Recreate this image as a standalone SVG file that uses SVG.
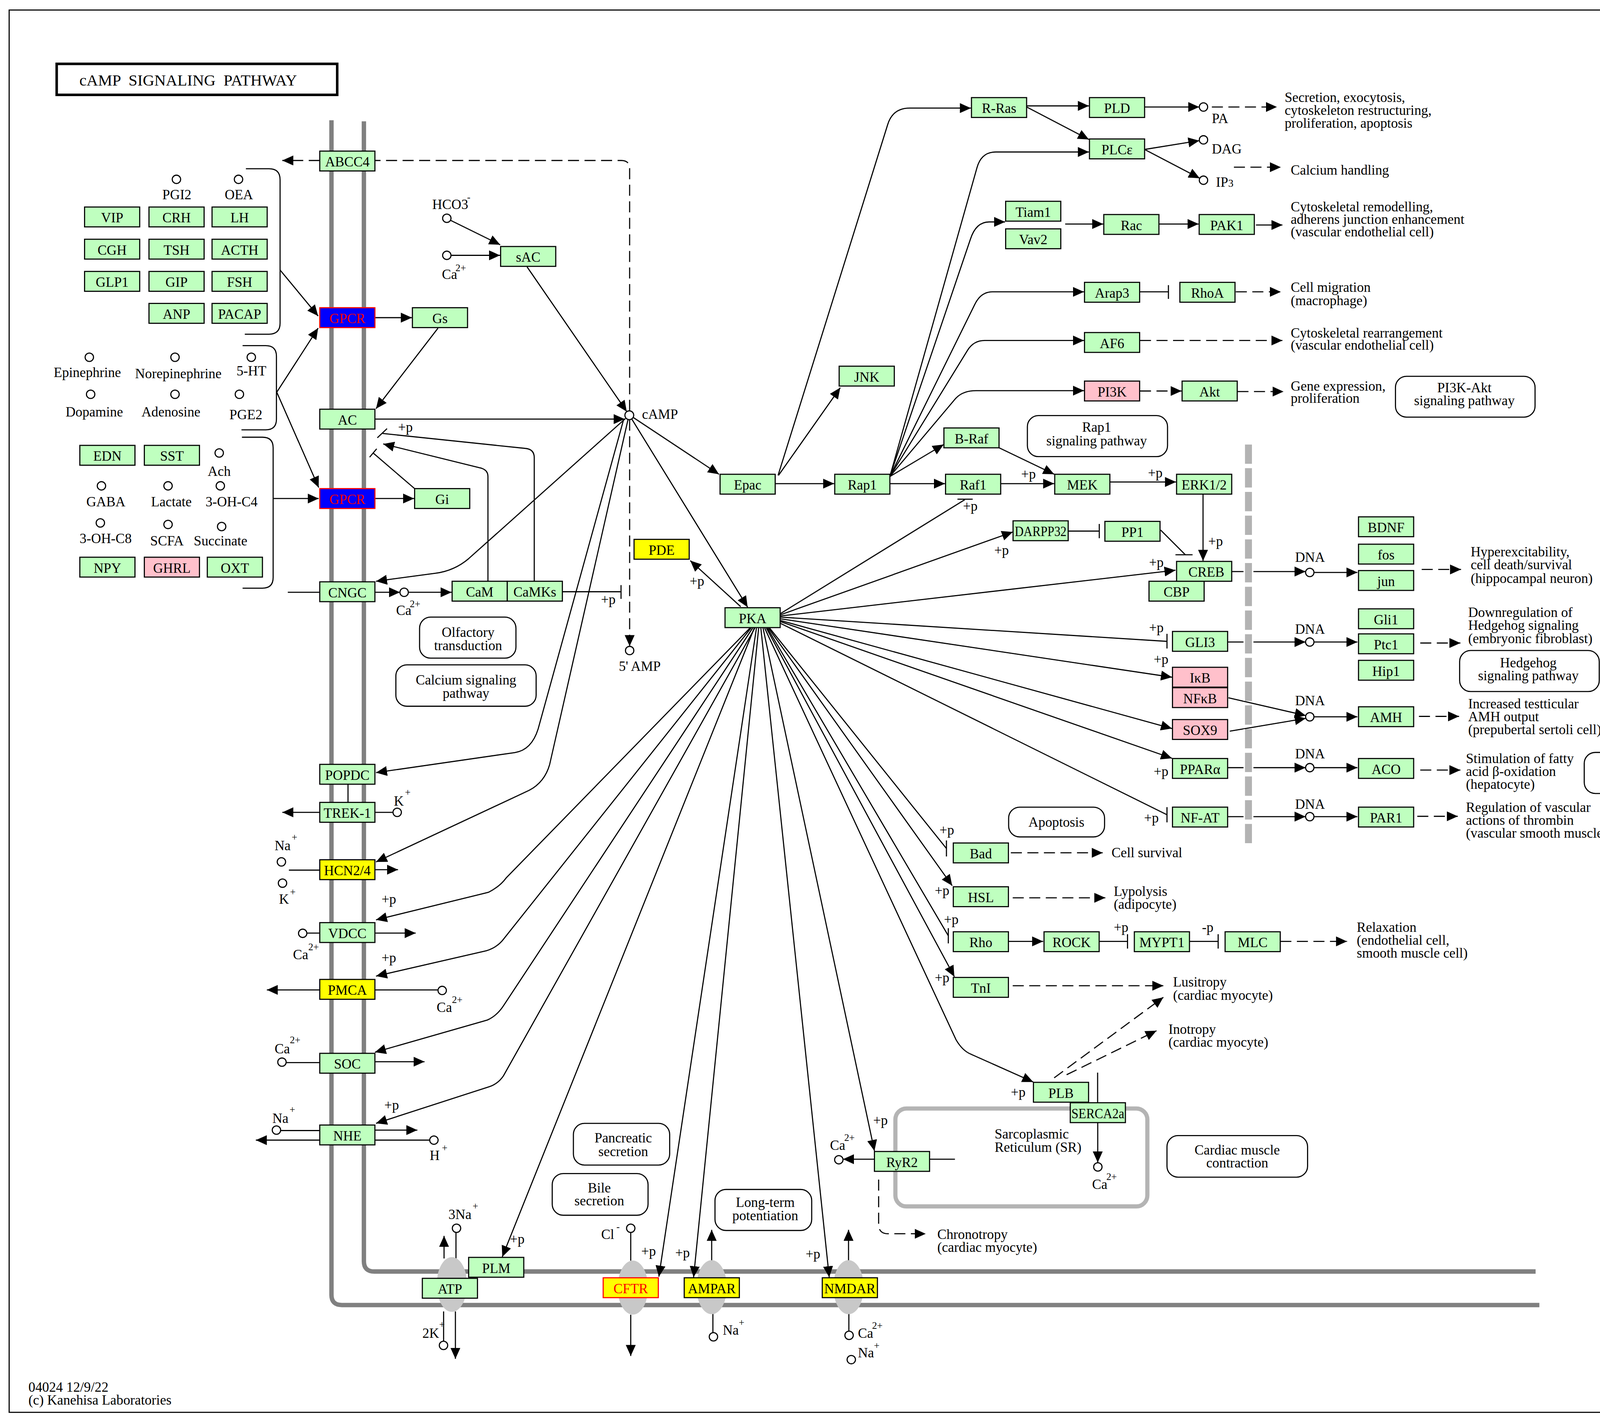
<svg xmlns="http://www.w3.org/2000/svg" width="4415" height="3642" viewBox="0 0 4415 3642">
<defs>
<style>
.n{stroke:#000;stroke-width:1}
.g{fill:#bfffbf}
.y{fill:#ffff00}
.p{fill:#ffc0cb}
.b{fill:#0000ff;stroke:#ff0000}
.cr{stroke:#ff0000}
text{font-family:"Liberation Serif","Times New Roman",serif;font-size:12.5px;fill:#000}
.m{text-anchor:middle}
.red{fill:#ff0000}
.l{fill:none;stroke:#000;stroke-width:1}
.d{stroke-dasharray:10 5}
.a{marker-end:url(#ah)}
.cp{fill:#fff;stroke:#000;stroke-width:1}
.mb{fill:none;stroke:#808080;stroke-width:4}
.map{fill:#fff;stroke:#000;stroke-width:1}
.ch{fill:#c8c8c8}
.sup{font-size:9px}
</style>
<marker id="ah" markerUnits="userSpaceOnUse" markerWidth="10" markerHeight="9" viewBox="0 0 10 9" refX="10" refY="4.5" orient="auto"><path d="M0,0L10,4.5L0,9z" fill="#000"/></marker>
</defs>
<rect width="4415" height="3642" fill="#fff"/>
<g transform="scale(2.8229)">
<rect x="8.3" y="9.1" width="1543" height="1271.4" fill="none" stroke="#000" stroke-width="1"/>
<g id="title"><rect x="51.4" y="57.9" width="254.4" height="28.1" fill="#fff" stroke="#000" stroke-width="2.3"/><text x="72" y="77.7" style="font-size:14.5px" xml:space="preserve">cAMP  SIGNALING  PATHWAY</text></g>

<g id="membranes">
<path class="mb" d="M300.6,109V1174Q300.6,1183.2 310,1183.2H1396"/>
<path class="mb" d="M330,110V1143.5Q330,1152.8 339.5,1152.8H1392.6"/>
<rect x="812" y="1005" width="228.5" height="88.8" rx="10" fill="none" stroke="#b4b4b4" stroke-width="3.8"/>
</g>

<g id="connectors">
<path class="l" d="M223,153H244Q254,153 254,163V293Q254,303 244,303H222"/>
<path class="l" d="M220,313.4H241Q250.7,313.4 250.7,323V380Q250.7,389.7 241,389.7H219"/>
<path class="l" d="M219.4,396.4H238Q247.7,396.4 247.7,406V523.6Q247.7,533.3 238,533.3H220"/>
<path class="l a" d="M254,244.8L288.5,286.5"/>
<path class="l a" d="M251,355.6L288.5,297.5"/>
<path class="l a" d="M251,355.6L289,442"/>
<path class="l a" d="M247.7,452H289"/>
<path class="l a" d="M340,288H373.5"/>
<path class="l a" d="M397.2,297.5L341,370.5"/>
<path class="l a" d="M340,452H375.5"/>
<path class="l" d="M376,443L338.4,410.7M341.6,406.9L335.2,414.5"/>
<path class="l a" d="M442.5,527V432Q442.5,425.5 434.5,424L347.5,402.5"/>
<path class="l" d="M484.5,527V415Q484.5,407 476,406.5L347,393M342.2,396.9L351,388.6"/>
<path class="l a" d="M408.5,199.7L453.6,221.9"/>
<path class="l a" d="M409.3,231.5H453.5"/>
<path class="l a" d="M478,242L568.4,373.2"/>
<path class="l a" d="M340,380H566.5"/>
<path class="l d" d="M571,372.5V153Q571,145.5 563.5,145.5H340"/>
<path class="l d a" d="M290,145.5H256"/>
<path class="l d a" d="M571,380.5V585.8"/>
<path class="l a" d="M574.3,378.5L652,430"/>
<path class="l a" d="M573,380L678,550.5"/>
<path class="l a" d="M567.2,379.5L425,506.5Q412,517.5 395,519.7L341,527"/>
<path class="l a" d="M565.5,380.5L488,661Q482,680 467,682.3L341,700.5"/>
<path class="l a" d="M569.5,380.5L498.5,693Q494,709 480,716.5L341,781.5"/>
<path class="l" d="M261,537H290"/>
<path class="l a" d="M340,537H362.7"/>
<path class="l a" d="M370.3,537H409.5"/>
<path class="l" d="M509.5,536.5H563.2M563.2,530.5V543"/>
<path class="l" d="M315.6,711V727.5"/>
<path class="l a" d="M290,736.5H256"/>
<path class="l" d="M340,736.5H356.4"/>
<path class="l" d="M262,788.9H290"/>
<path class="l a" d="M340,788.5H361"/>
<path class="l" d="M278.3,846H290"/>
<path class="l a" d="M340,846H377"/>
<path class="l a" d="M290,897.5H242"/>
<path class="l" d="M340,897.5H397.2"/>
<path class="l" d="M259.5,963.4H290"/>
<path class="l a" d="M340,962.6H385"/>
<path class="l" d="M254.5,1025H290"/>
<path class="l a" d="M340,1024.6H378.5"/>
<path class="l a" d="M290,1033.7H232"/>
<path class="l" d="M340,1033.7H389.7"/>
<path class="l a" d="M680,569.5L459,796Q453,804 443,809L341,834"/>
<path class="l a" d="M681,569.5L457,851Q451,859 441,862L341,885"/>
<path class="l a" d="M682.5,569.5L456.5,912Q450.5,921 442,924.8L340,954"/>
<path class="l a" d="M684.5,569.5L456.5,975.5Q451,983.5 442,985.8L341,1018.5"/>
<path class="l a" d="M684,569.5L455.5,1139.5"/>
<path class="l a" d="M686,569.5L597.5,1157.5"/>
<path class="l a" d="M688,569.5L629,1158"/>
<path class="l a" d="M690,569.5L752,1158"/>
<path class="l a" d="M692,569.5L793,1043.5"/>
<path class="l a" d="M693.5,569.5L867,942.7Q873,953 881,956L937,981"/>
<path class="l a" d="M695,569.5L865.5,885.5"/>
<path class="l" d="M696,569.5L860,848.4M860,841.5V855.3"/>
<path class="l a" d="M697,569.5L863.5,803"/>
<path class="l" d="M698,569.5L858.3,769.3M858.3,762V776.5"/>
<path class="l" d="M707.5,565L1058.3,738.7M1058.3,731.8V745.6"/>
<path class="l a" d="M707.5,563.5L1062.8,687.5"/>
<path class="l a" d="M707.5,562.5L1062.8,660.5"/>
<path class="l a" d="M707.5,561L1062.8,614"/>
<path class="l" d="M707.5,559.5L1058.3,581.5M1058.3,574.7V588"/>
<path class="l a" d="M707.5,558.5L1066,517"/>
<path class="l a" d="M707.5,557.5L918.5,482.3"/>
<path class="l" d="M707.5,556.5L875,453M868.3,452.6H882.1"/>
<path class="l a" d="M671.7,550L626,508.3"/>
<path class="l a" d="M703,438.5H756.5"/>
<path class="l a" d="M706,431L762,351.5"/>
<path class="l a" d="M705.6,431L805,113Q809.5,98 825,98H880.5"/>
<path class="l a" d="M807,438.5H857"/>
<path class="l a" d="M807,432L855.8,403"/>
<path class="l a" d="M807,432L866,362Q872.5,354.2 885,354.2H983"/>
<path class="l a" d="M807,432L877.5,317.5Q883,308.7 893,308.7H983"/>
<path class="l a" d="M807,432L884,276Q889.5,264.6 900,264.6H983"/>
<path class="l a" d="M807,432L880,217Q885,201.2 897,201.2H911.5"/>
<path class="l a" d="M807,432L886,152Q890,137.8 903,137.8H987.5"/>
<path class="l a" d="M907.2,438.5H956"/>
<path class="l a" d="M906,406L956,430"/>
<path class="l a" d="M1006.7,437H1066.5"/>
<path class="l a" d="M1091,448V508.5"/>
<path class="l" d="M968.8,481.5H996.9M996.9,475V488"/>
<path class="l" d="M1052.5,480.5L1075,503M1066,503H1081.5"/>
<path class="l a" d="M931,96H987.5"/>
<path class="l a" d="M931,97L987.5,126.5"/>
<path class="l a" d="M1038,97H1087.5"/>
<path class="l d a" d="M1099,97H1158"/>
<path class="l a" d="M1038,135.5L1087.6,127.5"/>
<path class="l a" d="M1038,135.5L1088,161.6"/>
<path class="l d a" d="M1119,151.6H1161.6"/>
<path class="l a" d="M966,203.1H1000.5"/>
<path class="l a" d="M1050.8,203.1H1087"/>
<path class="l a" d="M1139,204H1163"/>
<path class="l" d="M1033.8,264.6H1059.6M1059.6,258.5V271"/>
<path class="l d a" d="M1120.7,264.6H1161.6"/>
<path class="l d a" d="M1033.8,308.7H1163"/>
<path class="l d a" d="M1033.8,354.5H1071.5"/>
<path class="l d a" d="M1122.2,355H1164"/>
<path class="l a" d="M1117,518.2H1184"/>
<path class="l a" d="M1191.6,519H1231"/>
<path class="l d a" d="M1289.3,516.3H1325"/>
<path class="l a" d="M1113.5,582.1H1184"/>
<path class="l a" d="M1191.6,582.1H1231"/>
<path class="l d a" d="M1288,583H1324.4"/>
<path class="l a" d="M1114,632.6L1184.2,648.8"/>
<path class="l a" d="M1115.2,662.9L1184.2,651.3"/>
<path class="l a" d="M1191.6,649.9H1231"/>
<path class="l d a" d="M1286.8,649.5H1323.2"/>
<path class="l a" d="M1113.5,696H1184"/>
<path class="l a" d="M1191.6,696H1231"/>
<path class="l d a" d="M1288,698.2H1324.4"/>
<path class="l a" d="M1113.5,740.4H1184"/>
<path class="l a" d="M1191.6,740.4H1231"/>
<path class="l d a" d="M1285.3,740.1H1322"/>
<path class="l d a" d="M916.7,773.2H1000"/>
<path class="l d a" d="M918.4,814H1002.4"/>
<path class="l a" d="M914.7,853.5H946"/>
<path class="l" d="M996.9,853.5H1022.5M1022.5,847V860"/>
<path class="l" d="M1078.9,853.5H1104.7M1104.7,847V860"/>
<path class="l d a" d="M1161.1,853.5H1221.6"/>
<path class="l d a" d="M918.4,893.7H1055"/>
<path class="l d a" d="M956,977.2L1055,904.2"/>
<path class="l d a" d="M967.3,974.4L1048.8,934.5"/>
<path class="l" d="M995.4,972.5V999.8"/>
<path class="l a" d="M995.5,1018V1054"/>
<path class="l a" d="M793,1051H764.5"/>
<path class="l" d="M843.2,1051H866"/>
<path class="l d a" d="M796.8,1069.5V1110Q796.8,1118.6 805.5,1118.6H839.5"/>
<path class="l" d="M413.5,1117.4V1141"/>
<path class="l a" d="M413,1189V1232"/>
<path class="l" d="M402.3,1216V1189"/>
<path class="l a" d="M402.7,1141V1120.5"/>
<path class="l" d="M572,1117.4V1143"/>
<path class="l a" d="M572,1192V1229.4"/>
<path class="l a" d="M645.4,1143V1115"/>
<path class="l" d="M646.5,1191V1208.2"/>
<path class="l a" d="M769.5,1143V1115"/>
<path class="l" d="M769.8,1191V1207"/>
</g>

<g id="nucleus-boundary">
<path d="M1132.2,403V767" fill="none" stroke="#fff" stroke-width="9" stroke-dasharray="17.5 4"/>
<path d="M1132.2,403V767" fill="none" stroke="#b3b3b3" stroke-width="6.3" stroke-dasharray="17.5 4"/>
</g>

<g id="channels">
<ellipse class="ch" cx="409.8" cy="1164.6" rx="13.8" ry="24.8"/>
<ellipse class="ch" cx="573.9" cy="1167.4" rx="13.8" ry="24.5"/>
<ellipse class="ch" cx="645.4" cy="1167" rx="13.8" ry="24.5"/>
<ellipse class="ch" cx="769.5" cy="1167" rx="13.8" ry="24.5"/>
</g>

<g id="compounds">
<circle class="cp" cx="160" cy="162.6" r="3.8"/><circle class="cp" cx="216.3" cy="162.6" r="3.8"/>
<circle class="cp" cx="81" cy="323.9" r="3.8"/><circle class="cp" cx="158.7" cy="323.9" r="3.8"/><circle class="cp" cx="227.9" cy="323.9" r="3.8"/>
<circle class="cp" cx="82.2" cy="357.5" r="3.8"/><circle class="cp" cx="158.7" cy="357.5" r="3.8"/><circle class="cp" cx="217.1" cy="357.5" r="3.8"/>
<circle class="cp" cx="198.8" cy="410.7" r="3.8"/>
<circle class="cp" cx="92" cy="440.5" r="3.8"/><circle class="cp" cx="152.4" cy="440.5" r="3.8"/><circle class="cp" cx="199.8" cy="440.5" r="3.8"/>
<circle class="cp" cx="91" cy="474.1" r="3.8"/><circle class="cp" cx="152.4" cy="475.5" r="3.8"/><circle class="cp" cx="201" cy="477.4" r="3.8"/>
<circle class="cp" cx="405.2" cy="197.9" r="3.8"/><circle class="cp" cx="405.2" cy="231.5" r="3.8"/>
<circle class="cp" cx="570.7" cy="376.5" r="4"/>
<circle class="cp" cx="571" cy="589.8" r="3.8"/>
<circle class="cp" cx="366.5" cy="537" r="3.8"/>
<circle class="cp" cx="360.2" cy="736.5" r="3.8"/>
<circle class="cp" cx="255.2" cy="781.4" r="3.8"/><circle class="cp" cx="256.2" cy="800.7" r="3.8"/>
<circle class="cp" cx="274.5" cy="846.2" r="3.8"/>
<circle class="cp" cx="401" cy="898" r="3.8"/>
<circle class="cp" cx="255.7" cy="963" r="3.8"/>
<circle class="cp" cx="250.7" cy="1024.6" r="3.8"/><circle class="cp" cx="393.5" cy="1033.7" r="3.8"/>
<circle class="cp" cx="414" cy="1113.6" r="3.8"/><circle class="cp" cx="402.2" cy="1219.8" r="3.8"/>
<circle class="cp" cx="572" cy="1113.6" r="3.8"/>
<circle class="cp" cx="647" cy="1212" r="3.8"/>
<circle class="cp" cx="770" cy="1210.7" r="3.8"/><circle class="cp" cx="772" cy="1232.7" r="3.8"/>
<circle class="cp" cx="760.7" cy="1051.5" r="3.8"/>
<circle class="cp" cx="995.6" cy="1058" r="3.8"/>
<circle class="cp" cx="1091.4" cy="97" r="3.8"/><circle class="cp" cx="1091.4" cy="126.8" r="3.8"/><circle class="cp" cx="1091.4" cy="163.4" r="3.8"/>
<circle class="cp" cx="1187.8" cy="519" r="3.8"/><circle class="cp" cx="1187.8" cy="582.1" r="3.8"/><circle class="cp" cx="1187.8" cy="649.9" r="3.8"/><circle class="cp" cx="1187.8" cy="696" r="3.8"/><circle class="cp" cx="1187.8" cy="740.4" r="3.8"/>
</g>

<g id="nodes">
<g id="n-ABCC4"><rect class="n g" x="290" y="137" width="50" height="18"/><text class="m" x="315" y="151">ABCC4</text></g>
<g id="n-GPCR1"><rect class="n b" x="290" y="279" width="50" height="18"/><text class="m red" x="315" y="293">GPCR</text></g>
<g id="n-Gs"><rect class="n g" x="374" y="279" width="50" height="18"/><text class="m" x="399" y="293">Gs</text></g>
<g id="n-AC"><rect class="n g" x="290" y="371" width="50" height="18"/><text class="m" x="315" y="385">AC</text></g>
<g id="n-GPCR2"><rect class="n b" x="290" y="443" width="50" height="18"/><text class="m red" x="315" y="457">GPCR</text></g>
<g id="n-Gi"><rect class="n g" x="376" y="443" width="50" height="18"/><text class="m" x="401" y="457">Gi</text></g>
<g id="n-CNGC"><rect class="n g" x="290" y="527.5" width="50" height="18"/><text class="m" x="315" y="541.5">CNGC</text></g>
<g id="n-CaM"><rect class="n g" x="410" y="527" width="50" height="18"/><text class="m" x="435" y="541">CaM</text></g>
<g id="n-CaMKs"><rect class="n g" x="460" y="527" width="50" height="18"/><text class="m" x="485" y="541">CaMKs</text></g>
<g id="n-sAC"><rect class="n g" x="454" y="223.5" width="50" height="18"/><text class="m" x="479" y="237.5">sAC</text></g>
<g id="n-POPDC"><rect class="n g" x="290" y="693" width="50" height="18"/><text class="m" x="315" y="707">POPDC</text></g>
<g id="n-TREK1"><rect class="n g" x="290" y="727.5" width="50" height="18"/><text class="m" x="315" y="741.5">TREK-1</text></g>
<g id="n-HCN"><rect class="n y" x="290" y="779.5" width="50" height="18"/><text class="m" x="315" y="793.5">HCN2/4</text></g>
<g id="n-VDCC"><rect class="n g" x="290" y="836.5" width="50" height="18"/><text class="m" x="315" y="850.5">VDCC</text></g>
<g id="n-PMCA"><rect class="n y" x="290" y="888" width="50" height="18"/><text class="m" x="315" y="902">PMCA</text></g>
<g id="n-SOC"><rect class="n g" x="290" y="955" width="50" height="18"/><text class="m" x="315" y="969">SOC</text></g>
<g id="n-NHE"><rect class="n g" x="290" y="1020" width="50" height="18"/><text class="m" x="315" y="1034">NHE</text></g>
<g id="n-ATP"><rect class="n g" x="383" y="1159" width="50" height="18"/><text class="m" x="408" y="1173">ATP</text></g>
<g id="n-PLM"><rect class="n g" x="425" y="1140" width="50" height="18"/><text class="m" x="450" y="1154">PLM</text></g>
<g id="n-CFTR"><rect class="n y cr" x="547" y="1158.5" width="50" height="18"/><text class="m red" x="572" y="1172.5">CFTR</text></g>
<g id="n-AMPAR"><rect class="n y" x="620.5" y="1158.5" width="50" height="18"/><text class="m" x="645.5" y="1172.5">AMPAR</text></g>
<g id="n-NMDAR"><rect class="n y" x="745.7" y="1158.5" width="50" height="18"/><text class="m" x="770.7" y="1172.5">NMDAR</text></g>
<g id="n-PDE"><rect class="n y" x="575" y="489" width="50" height="18"/><text class="m" x="600" y="503">PDE</text></g>
<g id="n-PKA"><rect class="n g" x="657.5" y="551" width="50" height="18"/><text class="m" x="682.5" y="565">PKA</text></g>
<g id="n-Epac"><rect class="n g" x="653" y="430" width="50" height="18"/><text class="m" x="678" y="444">Epac</text></g>
<g id="n-Rap1"><rect class="n g" x="757" y="430" width="50" height="18"/><text class="m" x="782" y="444">Rap1</text></g>
<g id="n-JNK"><rect class="n g" x="761" y="332" width="50" height="18"/><text class="m" x="786" y="346">JNK</text></g>
<g id="n-RRas"><rect class="n g" x="881" y="88.5" width="50" height="18"/><text class="m" x="906" y="102.5">R-Ras</text></g>
<g id="n-PLD"><rect class="n g" x="988" y="88.5" width="50" height="18"/><text class="m" x="1013" y="102.5">PLD</text></g>
<g id="n-PLCe"><rect class="n g" x="988" y="126" width="50" height="18"/><text class="m" x="1013" y="140">PLCε</text></g>
<g id="n-Tiam1"><rect class="n g" x="912" y="182.5" width="50" height="18"/><text class="m" x="937" y="196.5">Tiam1</text></g>
<g id="n-Vav2"><rect class="n g" x="912" y="207.5" width="50" height="18"/><text class="m" x="937" y="221.5">Vav2</text></g>
<g id="n-Rac"><rect class="n g" x="1001" y="194.5" width="50" height="18"/><text class="m" x="1026" y="208.5">Rac</text></g>
<g id="n-PAK1"><rect class="n g" x="1087.5" y="194.5" width="50" height="18"/><text class="m" x="1112.5" y="208.5">PAK1</text></g>
<g id="n-Arap3"><rect class="n g" x="983.5" y="256" width="50" height="18"/><text class="m" x="1008.5" y="270">Arap3</text></g>
<g id="n-RhoA"><rect class="n g" x="1070" y="256" width="50" height="18"/><text class="m" x="1095" y="270">RhoA</text></g>
<g id="n-AF6"><rect class="n g" x="983.5" y="301.5" width="50" height="18"/><text class="m" x="1008.5" y="315.5">AF6</text></g>
<g id="n-PI3K"><rect class="n p" x="983.5" y="345.5" width="50" height="18"/><text class="m" x="1008.5" y="359.5">PI3K</text></g>
<g id="n-Akt"><rect class="n g" x="1072" y="345.5" width="50" height="18"/><text class="m" x="1097" y="359.5">Akt</text></g>
<g id="n-BRaf"><rect class="n g" x="856" y="388" width="50" height="18"/><text class="m" x="881" y="402">B-Raf</text></g>
<g id="n-Raf1"><rect class="n g" x="857.5" y="430" width="50" height="18"/><text class="m" x="882.5" y="444">Raf1</text></g>
<g id="n-MEK"><rect class="n g" x="956.5" y="430" width="50" height="18"/><text class="m" x="981.5" y="444">MEK</text></g>
<g id="n-ERK"><rect class="n g" x="1067" y="430" width="50" height="18"/><text class="m" x="1092" y="444">ERK1/2</text></g>
<g id="n-DARPP32"><rect class="n g" x="918.7" y="472.2" width="50" height="18"/><text class="m" x="943.7" y="486.2" textLength="47" lengthAdjust="spacingAndGlyphs">DARPP32</text></g>
<g id="n-PP1"><rect class="n g" x="1002" y="472.7" width="50" height="18"/><text class="m" x="1027" y="486.7">PP1</text></g>
<g id="n-CBP"><rect class="n g" x="1042" y="527" width="50" height="18"/><text class="m" x="1067" y="541">CBP</text></g>
<g id="n-CREB"><rect class="n g" x="1067" y="509" width="50" height="18"/><text class="m" x="1094" y="523">CREB</text></g>
<g id="n-GLI3"><rect class="n g" x="1063.3" y="572.5" width="50" height="18"/><text class="m" x="1088.3" y="586.5">GLI3</text></g>
<g id="n-IkB"><rect class="n p" x="1063.3" y="605" width="50" height="18"/><text class="m" x="1088.3" y="619">IκB</text></g>
<g id="n-NFkB"><rect class="n p" x="1063.3" y="623.5" width="50" height="18"/><text class="m" x="1088.3" y="637.5">NFκB</text></g>
<g id="n-SOX9"><rect class="n p" x="1063.3" y="652.4" width="50" height="18"/><text class="m" x="1088.3" y="666.4">SOX9</text></g>
<g id="n-PPARa"><rect class="n g" x="1063.3" y="687.7" width="50" height="18"/><text class="m" x="1088.3" y="701.7">PPARα</text></g>
<g id="n-NFAT"><rect class="n g" x="1063.3" y="731.8" width="50" height="18"/><text class="m" x="1088.3" y="745.8">NF-AT</text></g>
<g id="n-BDNF"><rect class="n g" x="1232" y="468.6" width="50" height="18"/><text class="m" x="1257" y="482.6">BDNF</text></g>
<g id="n-fos"><rect class="n g" x="1232" y="493.4" width="50" height="18"/><text class="m" x="1257" y="507.4">fos</text></g>
<g id="n-jun"><rect class="n g" x="1232" y="517.3" width="50" height="18"/><text class="m" x="1257" y="531.3">jun</text></g>
<g id="n-Gli1"><rect class="n g" x="1232" y="552" width="50" height="18"/><text class="m" x="1257" y="566">Gli1</text></g>
<g id="n-Ptc1"><rect class="n g" x="1232" y="574.7" width="50" height="18"/><text class="m" x="1257" y="588.7">Ptc1</text></g>
<g id="n-Hip1"><rect class="n g" x="1232" y="598.7" width="50" height="18"/><text class="m" x="1257" y="612.7">Hip1</text></g>
<g id="n-AMH"><rect class="n g" x="1232" y="640.8" width="50" height="18"/><text class="m" x="1257" y="654.8">AMH</text></g>
<g id="n-ACO"><rect class="n g" x="1232" y="687.7" width="50" height="18"/><text class="m" x="1257" y="701.7">ACO</text></g>
<g id="n-PAR1"><rect class="n g" x="1232" y="731.8" width="50" height="18"/><text class="m" x="1257" y="745.8">PAR1</text></g>
<g id="n-Bad"><rect class="n g" x="864.5" y="764.3" width="50" height="18"/><text class="m" x="889.5" y="778.3">Bad</text></g>
<g id="n-HSL"><rect class="n g" x="864.5" y="804" width="50" height="18"/><text class="m" x="889.5" y="818">HSL</text></g>
<g id="n-Rho"><rect class="n g" x="864.5" y="844.8" width="50" height="18"/><text class="m" x="889.5" y="858.8">Rho</text></g>
<g id="n-TnI"><rect class="n g" x="864.5" y="886.2" width="50" height="18"/><text class="m" x="889.5" y="900.2">TnI</text></g>
<g id="n-ROCK"><rect class="n g" x="946.8" y="844.8" width="50" height="18"/><text class="m" x="971.8" y="858.8">ROCK</text></g>
<g id="n-MYPT1"><rect class="n g" x="1028.7" y="844.8" width="50" height="18"/><text class="m" x="1053.7" y="858.8">MYPT1</text></g>
<g id="n-MLC"><rect class="n g" x="1111" y="844.8" width="50" height="18"/><text class="m" x="1136" y="858.8">MLC</text></g>
<g id="n-PLB"><rect class="n g" x="937.2" y="981.3" width="50" height="18"/><text class="m" x="962.2" y="995.3">PLB</text></g>
<g id="n-SERCA2a"><rect class="n g" x="970.6" y="999.8" width="50" height="18"/><text class="m" x="995.6" y="1013.8" textLength="48" lengthAdjust="spacingAndGlyphs">SERCA2a</text></g>
<g id="n-RyR2"><rect class="n g" x="793" y="1044" width="50" height="18"/><text class="m" x="818" y="1058">RyR2</text></g>
<g id="n-VIP"><rect class="n g" x="76.7" y="187.7" width="50" height="18"/><text class="m" x="101.7" y="201.7">VIP</text></g>
<g id="n-CRH"><rect class="n g" x="135.1" y="187.7" width="50" height="18"/><text class="m" x="160.1" y="201.7">CRH</text></g>
<g id="n-LH"><rect class="n g" x="192.3" y="187.7" width="50" height="18"/><text class="m" x="217.3" y="201.7">LH</text></g>
<g id="n-CGH"><rect class="n g" x="76.7" y="216.9" width="50" height="18"/><text class="m" x="101.7" y="230.9">CGH</text></g>
<g id="n-TSH"><rect class="n g" x="135.1" y="216.9" width="50" height="18"/><text class="m" x="160.1" y="230.9">TSH</text></g>
<g id="n-ACTH"><rect class="n g" x="192.3" y="216.9" width="50" height="18"/><text class="m" x="217.3" y="230.9">ACTH</text></g>
<g id="n-GLP1"><rect class="n g" x="76.7" y="246.1" width="50" height="18"/><text class="m" x="101.7" y="260.1">GLP1</text></g>
<g id="n-GIP"><rect class="n g" x="135.1" y="246.1" width="50" height="18"/><text class="m" x="160.1" y="260.1">GIP</text></g>
<g id="n-FSH"><rect class="n g" x="192.3" y="246.1" width="50" height="18"/><text class="m" x="217.3" y="260.1">FSH</text></g>
<g id="n-ANP"><rect class="n g" x="135.1" y="275.1" width="50" height="18"/><text class="m" x="160.1" y="289.1">ANP</text></g>
<g id="n-PACAP"><rect class="n g" x="192.3" y="275.1" width="50" height="18"/><text class="m" x="217.3" y="289.1">PACAP</text></g>
<g id="n-EDN"><rect class="n g" x="72.4" y="403.8" width="50" height="18"/><text class="m" x="97.4" y="417.8">EDN</text></g>
<g id="n-SST"><rect class="n g" x="130.9" y="403.8" width="50" height="18"/><text class="m" x="155.9" y="417.8">SST</text></g>
<g id="n-NPY"><rect class="n g" x="72.4" y="505.2" width="50" height="18"/><text class="m" x="97.4" y="519.2">NPY</text></g>
<g id="n-GHRL"><rect class="n p" x="130.9" y="505.2" width="50" height="18"/><text class="m" x="155.9" y="519.2">GHRL</text></g>
<g id="n-OXT"><rect class="n g" x="188" y="505.2" width="50" height="18"/><text class="m" x="213" y="519.2">OXT</text></g>
</g>

<g id="maps">
<g id="m-rap1"><rect class="map" x="931.7" y="376.8" width="127.1" height="37.2" rx="10"/><text class="m" x="994.5" y="391.4">Rap1</text><text class="m" x="994.5" y="403.8">signaling pathway</text></g>
<g id="m-pi3k"><rect class="map" x="1265.5" y="341.2" width="126.6" height="37" rx="10"/><text class="m" x="1328" y="355.6">PI3K-Akt</text><text class="m" x="1328" y="367.4">signaling pathway</text></g>
<g id="m-olf"><rect class="map" x="380.5" y="559.5" width="87.4" height="37.2" rx="10"/><text class="m" x="424.5" y="577.4">Olfactory</text><text class="m" x="424.5" y="589.3">transduction</text></g>
<g id="m-cal"><rect class="map" x="359" y="602.8" width="127.2" height="37.5" rx="10"/><text class="m" x="422.6" y="620.7">Calcium signaling</text><text class="m" x="422.6" y="632.6">pathway</text></g>
<g id="m-hh"><rect class="map" x="1323.7" y="589.8" width="126.6" height="37.2" rx="10"/><text class="m" x="1386" y="605">Hedgehog</text><text class="m" x="1386" y="616.9">signaling pathway</text></g>
<g id="m-fad"><rect class="map" x="1436.7" y="682.2" width="86.5" height="37.2" rx="10"/><text class="m" x="1484" y="699.3">Fatty acid</text><text class="m" x="1484" y="711.1">degradation</text></g>
<g id="m-apo"><rect class="map" x="914.7" y="731.8" width="87" height="27" rx="10"/><text class="m" x="958" y="749.7">Apoptosis</text></g>
<g id="m-pan"><rect class="map" x="520" y="1018.5" width="87.3" height="37.8" rx="10"/><text class="m" x="565.2" y="1035.9">Pancreatic</text><text class="m" x="565.2" y="1048.3">secretion</text></g>
<g id="m-bile"><rect class="map" x="500.8" y="1064" width="86.9" height="37.8" rx="10"/><text class="m" x="543.5" y="1081.1">Bile</text><text class="m" x="543.5" y="1093">secretion</text></g>
<g id="m-ltp"><rect class="map" x="648.4" y="1078.4" width="87.7" height="37.2" rx="10"/><text class="m" x="694" y="1094.3">Long-term</text><text class="m" x="694" y="1106.2">potentiation</text></g>
<g id="m-cmc"><rect class="map" x="1058.3" y="1029.6" width="127.5" height="37.7" rx="10"/><text class="m" x="1122" y="1046.9">Cardiac muscle</text><text class="m" x="1122" y="1058.5">contraction</text></g>
</g>

<g id="labels">
<text class="m" x="160.4" y="180.5">PGI2</text><text class="m" x="216.6" y="180.5">OEA</text>
<text class="m" x="79.2" y="342">Epinephrine</text><text class="m" x="161.7" y="343">Norepinephrine</text><text class="m" x="228" y="340.5">5-HT</text>
<text class="m" x="85.5" y="377.6">Dopamine</text><text class="m" x="155" y="377.6">Adenosine</text><text class="m" x="223" y="380">PGE2</text>
<text class="m" x="198.8" y="431.4">Ach</text>
<text class="m" x="96" y="459">GABA</text><text class="m" x="155.4" y="459">Lactate</text><text class="m" x="210" y="459">3-OH-C4</text>
<text class="m" x="95.8" y="492.5">3-OH-C8</text><text class="m" x="151.4" y="494.7">SCFA</text><text class="m" x="200" y="494.7">Succinate</text>
<text x="392" y="189.6">HCO3<tspan class="sup" dx="-1" dy="-8">-</tspan></text>
<text x="400.7" y="253">Ca<tspan class="sup" dx="-1.5" dy="-7">2+</tspan></text>
<text x="582.2" y="379.8">cAMP</text>
<text class="m" x="580.2" y="608.3">5' AMP</text>
<text x="359.2" y="557.6">Ca<tspan class="sup" dx="-1.5" dy="-7">2+</tspan></text>
<text x="357.2" y="730.4">K<tspan class="sup" dx="1" dy="-9">+</tspan></text>
<text x="249" y="771">Na<tspan class="sup" dx="1" dy="-9">+</tspan></text>
<text x="253" y="819.5">K<tspan class="sup" dx="1" dy="-8">+</tspan></text>
<text x="265.7" y="869.7">Ca<tspan class="sup" dx="0" dy="-8">2+</tspan></text>
<text x="396" y="917.4">Ca<tspan class="sup" dx="0" dy="-8">2+</tspan></text>
<text x="249" y="955">Ca<tspan class="sup" dx="0" dy="-9">2+</tspan></text>
<text x="247" y="1018">Na<tspan class="sup" dx="1" dy="-9">+</tspan></text>
<text x="389.7" y="1051.6">H<tspan class="sup" dx="2" dy="-8">+</tspan></text>
<text x="406.7" y="1105.4">3Na<tspan class="sup" dx="1" dy="-9">+</tspan></text>
<text x="383" y="1212.9">2K<tspan class="sup" dx="0" dy="-9">+</tspan></text>
<text x="545.2" y="1123.3">Cl<tspan class="sup" dx="2" dy="-8">-</tspan></text>
<text x="655.4" y="1210">Na<tspan class="sup" dx="0" dy="-8">+</tspan></text>
<text x="778" y="1212.9">Ca<tspan class="sup" dx="-1" dy="-8">2+</tspan></text>
<text x="778" y="1230.8">Na<tspan class="sup" dx="0" dy="-8">+</tspan></text>
<text x="752.7" y="1042.5">Ca<tspan class="sup" dx="-1" dy="-8">2+</tspan></text>
<text x="990.4" y="1077.8">Ca<tspan class="sup" dx="-1" dy="-8">2+</tspan></text>
<text x="1099" y="111.6">PA</text><text x="1099" y="139.2">DAG</text><text x="1102.7" y="169.5">IP<tspan style="font-size:9.5px">3</tspan></text>
<text class="m" x="1188" y="509.4">DNA</text><text class="m" x="1188" y="574.7">DNA</text><text class="m" x="1188" y="639.5">DNA</text><text class="m" x="1188" y="687.7">DNA</text><text class="m" x="1188" y="733.2">DNA</text>
<text x="361" y="391.5">+p</text>
<text x="545" y="547.7">+p</text>
<text x="625.4" y="531.1">+p</text>
<text x="346" y="819.5">+p</text>
<text x="346" y="872.5">+p</text>
<text x="348.5" y="1006">+p</text>
<text x="462.4" y="1127.4">+p</text>
<text x="581.5" y="1138.4">+p</text>
<text x="612.3" y="1140">+p</text>
<text x="730.6" y="1141.2">+p</text>
<text x="791.8" y="1020">+p</text>
<text x="916.7" y="994.3">+p</text>
<text x="847.7" y="890.4">+p</text>
<text x="856" y="837.9">+p</text>
<text x="847.7" y="811.7">+p</text>
<text x="852" y="756.6">+p</text>
<text x="1037.5" y="745.6">+p</text>
<text x="1046.3" y="703.7">+p</text>
<text x="1046.3" y="601.7">+p</text>
<text x="1042" y="573.3">+p</text>
<text x="1042" y="514">+p</text>
<text x="1095.7" y="494.8">+p</text>
<text x="901.6" y="503">+p</text>
<text x="873.3" y="463.1">+p</text>
<text x="926" y="434">+p</text>
<text x="1041" y="433">+p</text>
<text x="1010" y="844.8">+p</text>
<text x="1090" y="844.8">-p</text>
<text x="1165" y="92.3">Secretion, exocytosis,</text><text x="1165" y="104.2">cytoskeleton restructuring,</text><text x="1165" y="115.8">proliferation, apoptosis</text>
<text x="1170.5" y="158.5">Calcium handling</text>
<text x="1170.5" y="191.6">Cytoskeletal remodelling,</text><text x="1170.5" y="203.1">adherens junction  enhancement</text><text x="1170.5" y="214.4">(vascular endothelial cell)</text>
<text x="1170.5" y="264.6">Cell migration</text><text x="1170.5" y="276.5">(macrophage)</text>
<text x="1170.5" y="306">Cytoskeletal rearrangement</text><text x="1170.5" y="317">(vascular endothelial cell)</text>
<text x="1170.5" y="354.2">Gene expression,</text><text x="1170.5" y="365.2">proliferation</text>
<text x="1333.7" y="504.4">Hyperexcitability,</text><text x="1333.7" y="516.3">cell death/survival</text><text x="1333.7" y="528.4">(hippocampal neuron)</text>
<text x="1331.4" y="559.5">Downregulation of</text><text x="1331.4" y="571.1">Hedgehog signaling</text><text x="1331.4" y="583">(embryonic fibroblast)</text>
<text x="1331.4" y="642.2">Increased testticular</text><text x="1331.4" y="654.1">AMH output</text><text x="1331.4" y="665.6">(prepubertal sertoli cell)</text>
<text x="1329.4" y="691.8">Stimulation of fatty</text><text x="1329.4" y="703.7">acid β-oxidation</text><text x="1329.4" y="715.3">(hepatocyte)</text>
<text x="1329.4" y="736">Regulation of vascular</text><text x="1329.4" y="747.8">actions of thrombin</text><text x="1329.4" y="759.4">(vascular smooth muscle cell)</text>
<text x="1008" y="777.3">Cell survival</text>
<text x="1010" y="812.3">Lypolysis</text><text x="1010" y="824.1">(adipocyte)</text>
<text x="1230.4" y="844.8">Relaxation</text><text x="1230.4" y="856.6">(endothelial cell,</text><text x="1230.4" y="868.4">smooth muscle cell)</text>
<text x="1063.8" y="894.5">Lusitropy</text><text x="1063.8" y="906.4">(cardiac myocyte)</text>
<text x="1059.6" y="937.2">Inotropy</text><text x="1059.6" y="949.1">(cardiac myocyte)</text>
<text x="850" y="1123.3">Chronotropy</text><text x="850" y="1135.1">(cardiac myocyte)</text>
<text x="902" y="1032.3">Sarcoplasmic</text><text x="902" y="1044.2">Reticulum (SR)</text>
<text x="25.8" y="1262">04024 12/9/22</text><text x="25.8" y="1273.5">(c) Kanehisa Laboratories</text>
</g>
</g>
</svg>
